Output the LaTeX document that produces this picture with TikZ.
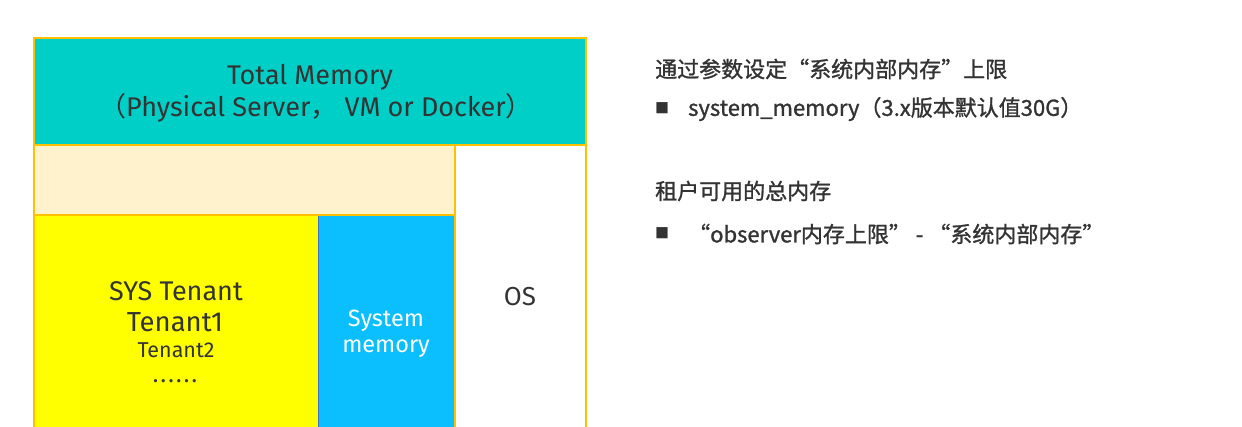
\documentclass[tikz,border=0pt]{standalone}
\usepackage{fontspec}
\setmainfont{Fira Sans}
\newfontfamily\cjk{Noto Sans CJK SC}
\newfontfamily\cjkb[FakeBold=1.2]{Noto Sans CJK SC}
\definecolor{teal}{HTML}{00CFC8}
\definecolor{beige}{HTML}{FFF2CC}
\definecolor{yel}{HTML}{FFFF00}
\definecolor{sky}{HTML}{0BBFFF}
\definecolor{gold}{HTML}{FFC000}
\definecolor{edge}{HTML}{4472C4}
\definecolor{txt}{HTML}{333333}
\tikzset{
  goldbox/.style={draw=gold, line width=2pt},
  bluebox/.style={draw=edge, line width=1pt},
  lbl/.style={text=txt, align=center, inner sep=0pt},
  rt/.style={text=txt, anchor=west, inner sep=0pt, font=\cjkb\fontsize{22pt}{26pt}\selectfont},
  bul/.style={text=txt, anchor=west, inner sep=0pt, font=\cjk\fontsize{14pt}{16pt}\selectfont}
}
\begin{document}
\begin{tikzpicture}[x=1pt,y=-1pt]
\useasboundingbox (0,0) rectangle (1242,426);
\fill[white] (0,0) rectangle (1242,426);
\begin{scope}
\clip (0,0) rectangle (1242,426);
% boxes
\fill[teal] (34,38) rectangle (586,145);
\fill[beige] (34,145) rectangle (455,215);
\fill[yel] (34,215) rectangle (318,440);
\fill[sky] (318,215) rectangle (455,440);
\draw[bluebox] (34,215) rectangle (318,440);
\draw[bluebox] (318,215) rectangle (455,440);
\draw[goldbox] (34,38) rectangle (586,440);
\draw[goldbox] (34,145) -- (586,145);
\draw[goldbox] (455,145) -- (455,440);
\draw[goldbox] (34,145) -- (34,215) -- (455,215);
\end{scope}
% texts
\node[lbl, font=\fontsize{27pt}{32pt}\selectfont] (tm) at (310,77) {Total Memory};
\node[lbl, font=\fontsize{27pt}{32pt}\selectfont] (tm2) at (316,108) {{\cjk （}Physical Server{\cjk ，} VM or Docker{\cjk ）}};
\node[lbl, font=\fontsize{27pt}{32pt}\selectfont] (sys) at (176,291) {SYS Tenant};
\node[lbl, font=\fontsize{27.5pt}{32pt}\selectfont] (t1) at (175,322) {Tenant1};
\node[lbl, font=\fontsize{21.5pt}{26pt}\selectfont] (t2) at (176,350) {Tenant2};
\node[lbl, font=\fontsize{23pt}{26pt}\selectfont, text height=3pt, text depth=0pt] (dots) at (175,381) {.\kern2.2pt.\kern2.2pt.\kern2.2pt.\kern2.2pt.\kern2.2pt.};
\node[lbl, text=white, font=\fontsize{23.5pt}{28pt}\selectfont] (sm1) at (386,321) {System};
\node[lbl, text=white, font=\fontsize{23.5pt}{28pt}\selectfont] (sm2) at (386,349) {memory};
\node[lbl, font=\fontsize{26pt}{30pt}\selectfont] (os) at (520,297) {OS};
% right
\node[rt] (r1) at (655,69) {通过参数设定“系统内部内存”上限};
\node[bul] (b1) at (655,108) {■};
\node[rt] (r2) at (688,109) {system\_memory（3.x版本默认值30G）};
\node[rt] (r3) at (655,191) {租户可用的总内存};
\node[bul] (b2) at (655,233) {■};
\node[rt] (r4) at (688,234) {“observer内存上限” - “系统内部内存”};
\end{tikzpicture}
\end{document}
